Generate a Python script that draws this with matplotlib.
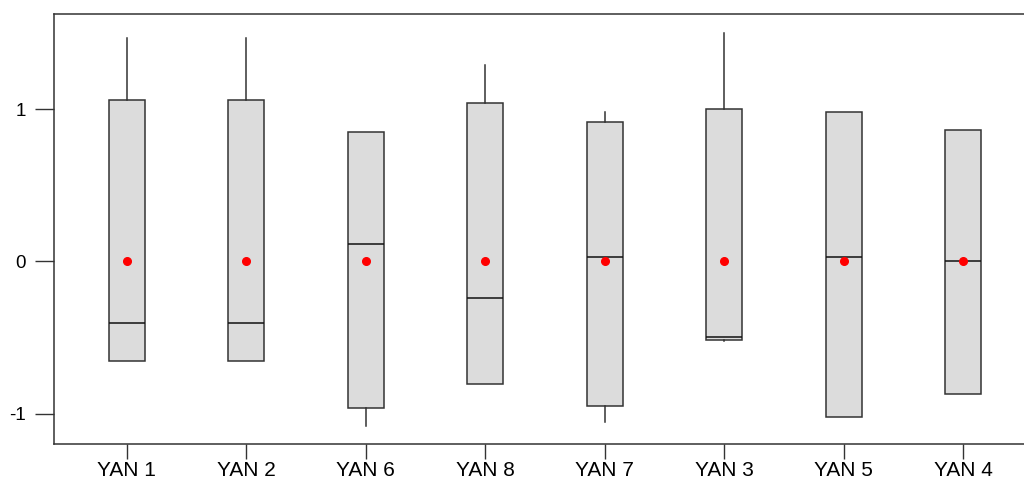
import numpy as np
import matplotlib.pyplot as plt

plt.rcParams['font.family'] = ['Liberation Sans', 'DejaVu Sans']

# box summaries per group, in plotting order
labels = ["YAN 1", "YAN 2", "YAN 6", "YAN 8", "YAN 7", "YAN 3", "YAN 5", "YAN 4"]
whislo = [-0.655, -0.655, -1.079, -0.804, -1.057, -0.523, -1.024, -0.871]
q1 = [-0.655, -0.655, -0.965, -0.804, -0.950, -0.517, -1.024, -0.871]
med = [-0.403, -0.403, 0.112, -0.243, 0.030, -0.497, 0.030, 0.0]
q3 = [1.057, 1.057, 0.849, 1.039, 0.913, 1.002, 0.980, 0.862]
whishi = [1.464, 1.464, 0.849, 1.287, 0.982, 1.499, 0.980, 0.862]
means = [0, 0, 0, 0, 0, 0, 0, 0]

stats = []
for i in range(len(labels)):
    stats.append(dict(label=labels[i], whislo=whislo[i], q1=q1[i], med=med[i],
                      q3=q3[i], whishi=whishi[i], mean=means[i], fliers=[]))

fig = plt.figure(figsize=(10.24, 4.82), dpi=100)
ax = fig.add_axes([54/1024, 1 - 444/482, (1036 - 54)/1024, (444 - 14)/482])

lc = '#333333'
ax.bxp(stats, positions=np.arange(1, 9), widths=0.30, patch_artist=True,
       showmeans=True, showcaps=False, showfliers=False,
       boxprops=dict(facecolor='#dcdcdc', edgecolor=lc, linewidth=1.1),
       whiskerprops=dict(color=lc, linewidth=1.1),
       medianprops=dict(color='#111111', linewidth=1.1),
       meanprops=dict(marker='o', markerfacecolor='red', markeredgecolor='red',
                      markersize=5.5))

ax.set_xlim(0.39, 8.61)
ax.set_ylim(-1.2, 1.624)
ax.set_yticks([-1, 0, 1])
ax.set_yticklabels(['-1', '0', '1'])
ax.set_xticks(np.arange(1, 9))
ax.set_xticklabels(labels)

ax.tick_params(axis='y', length=14, width=1.0, color=lc, labelsize=13.5, pad=6)
ax.tick_params(axis='x', length=11, width=1.0, color=lc, labelsize=15, pad=1.5)
for s in ['left', 'bottom', 'top', 'right']:
    ax.spines[s].set_color(lc)
    ax.spines[s].set_linewidth(1.1)

fig.savefig('out.png', dpi=100)
